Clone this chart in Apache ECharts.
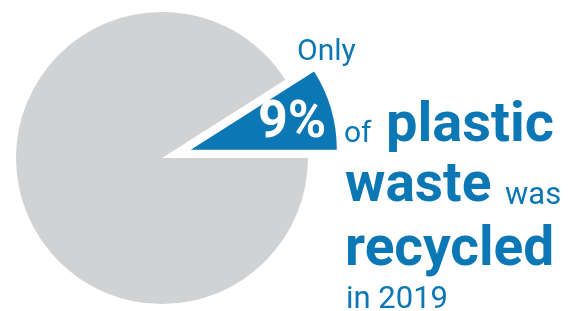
<!DOCTYPE html>
<html>
<head>
<meta charset="utf-8">
<script src="https://cdn.jsdelivr.net/npm/echarts@6/dist/echarts.min.js"></script>
<style>
  html, body { margin: 0; padding: 0; background: #fff; }
  #chart { width: 572px; height: 311px; }
</style>
</head>
<body>
<div id="chart"></div>
<script>
// 数据
const categories = ['Recycled', 'Not recycled']
const shares = [9, 91]
const colors = ['#0b77b5', '#d1d2d4']

const blue = '#0b77b5'
const font = 'Roboto'

const chart = echarts.init(document.getElementById('chart'))

// 文字块
function txt (text, x, y, size, weight, color) {
  return {
    type: 'text',
    x: x,
    y: y,
    z: 10,
    style: {
      text: text,
      fontFamily: font,
      fontSize: size,
      fontWeight: weight,
      fill: color || blue,
      verticalAlign: 'middle',
      align: 'left'
    }
  }
}

chart.setOption({
  animation: false,
  series: [
    {
      type: 'pie',
      center: [162, 158],
      radius: 146,
      startAngle: shares[0] / 100 * 360,
      clockwise: true,
      selectedMode: 'single',
      selectedOffset: 30,
      label: { show: false },
      labelLine: { show: false },
      emphasis: { disabled: true },
      itemStyle: { borderWidth: 0 },
      data: categories.map((name, i) => ({
        name: name,
        value: shares[i],
        selected: i === 0,
        itemStyle: { color: colors[i] }
      }))
    }
  ],
  graphic: [
    txt('Only', 297, 52, 30, 'normal'),
    txt(shares[0] + '%', 258, 124, 52, 'bold', '#fff'),
    txt('of', 344, 134, 30, 'normal'),
    txt('plastic', 386, 127, 56, 'bold'),
    txt('waste', 345, 187, 55, 'bold'),
    txt('was', 505, 196, 31, 'normal'),
    txt('recycled', 345, 251, 55, 'bold'),
    txt('in 2019', 346, 300, 31, 'normal')
  ]
})
</script>
</body>
</html>
